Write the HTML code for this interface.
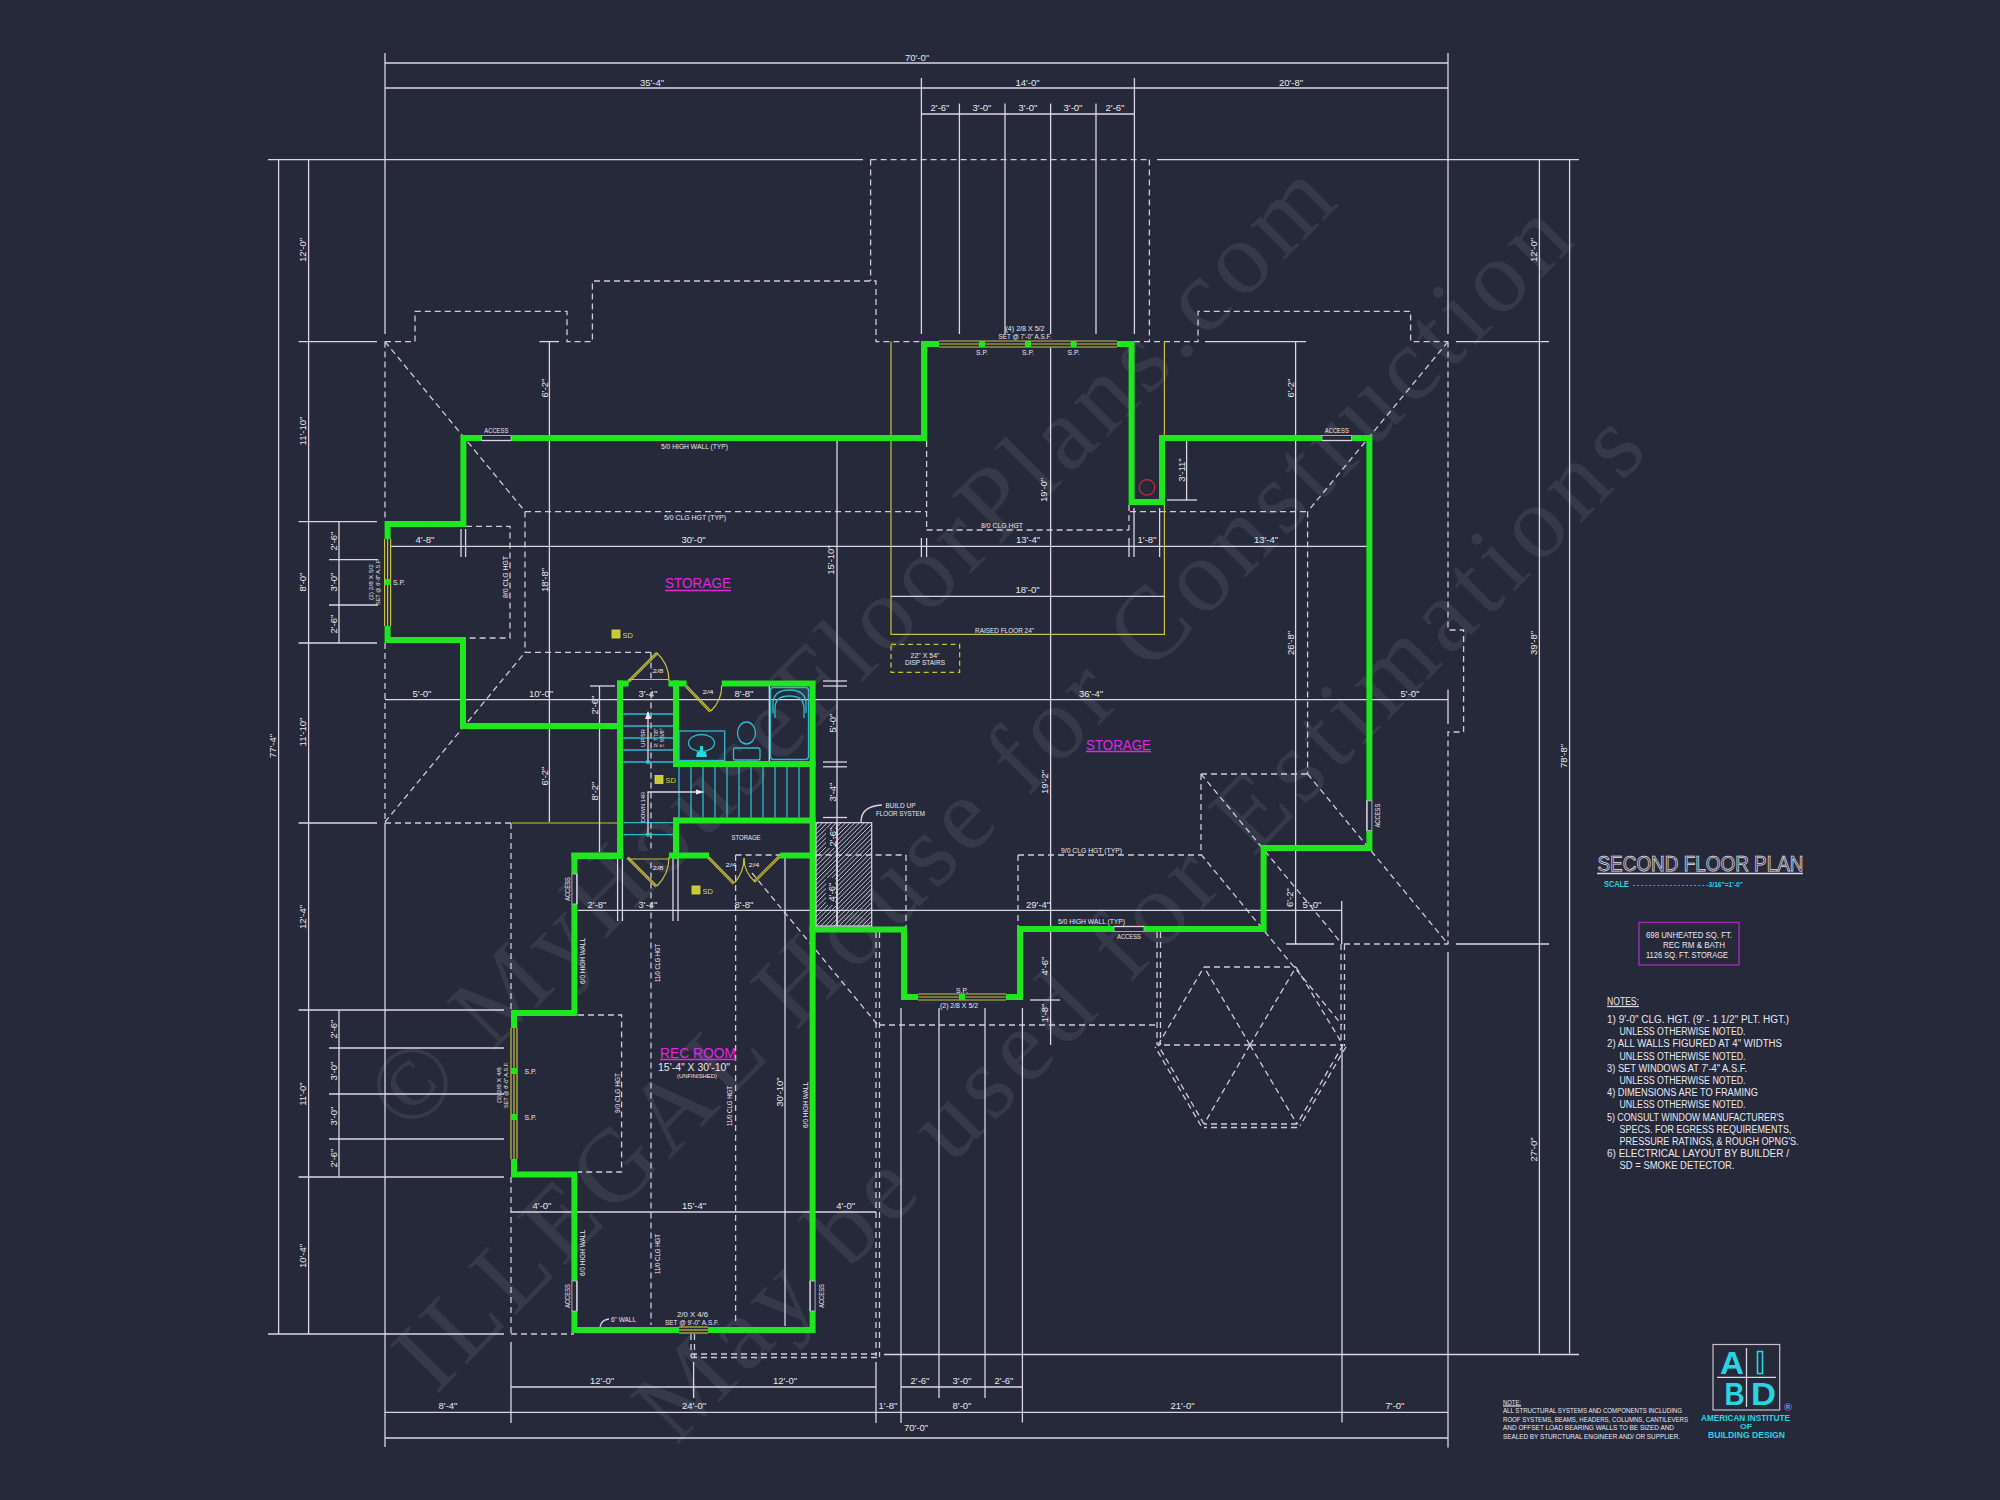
<!DOCTYPE html><html><head><meta charset="utf-8"><style>
html,body{margin:0;padding:0;background:#25293a;width:2000px;height:1500px;overflow:hidden}
svg{display:block}
.w{stroke:#dcd6e4;stroke-width:1.3;fill:none}
.d{stroke:#cfcbd8;stroke-width:1.3;fill:none;stroke-dasharray:6 4}
.g{stroke:#1fe61f;stroke-width:6;fill:none;stroke-linecap:square;stroke-linejoin:miter}
.gt{stroke:#1fe61f;stroke-width:6;fill:none;stroke-linecap:butt}
.y{stroke:#c8c23c;stroke-width:1.2;fill:none}
.yd{stroke:#c8c23c;stroke-width:1.3;fill:none;stroke-dasharray:5 3.5}
.c{stroke:#2ebccc;stroke-width:1.3;fill:none}
text{font-family:"Liberation Sans",sans-serif}
.t{fill:#ece8f0}
.m{fill:#e028e0}
.ct{fill:#2ad4e2}
.wm text{font-family:"Liberation Serif",serif;fill:#ffffff;fill-opacity:0.08}
</style></head><body>
<svg width="2000" height="1500" viewBox="0 0 2000 1500">
<rect width="2000" height="1500" fill="#25293a"/>
<g class="wm">
<text x="408.5" y="1135.8" font-size="104" letter-spacing="6.65" transform="rotate(-45 408.5 1135.8)">© MyHouseFloorPlans.com</text>
<text x="435.7" y="1395.7" font-size="104" letter-spacing="6.35" transform="rotate(-45.3 435.7 1395.7)">ILLEGAL House for Construction</text>
<text x="675.9" y="1446.5" font-size="104" letter-spacing="7.5" transform="rotate(-45.57 675.9 1446.5)">May be used for Estimations</text>
</g>
<line class="w" x1="385" y1="53" x2="385" y2="334"/>
<line class="w" x1="1448" y1="53" x2="1448" y2="334"/>
<line class="w" x1="385" y1="63" x2="1448" y2="63"/>
<text class="t" x="917" y="61.0" text-anchor="middle" font-size="9.5">70'-0"</text>
<line class="w" x1="385" y1="88" x2="1448" y2="88"/>
<text class="t" x="652" y="85.9" text-anchor="middle" font-size="9.5">35'-4"</text>
<text class="t" x="1027.6" y="85.9" text-anchor="middle" font-size="9.5">14'-0"</text>
<text class="t" x="1291" y="85.9" text-anchor="middle" font-size="9.5">20'-8"</text>
<line class="w" x1="921.4" y1="78" x2="921.4" y2="334"/>
<line class="w" x1="1134.4" y1="78" x2="1134.4" y2="334"/>
<line class="w" x1="921.4" y1="114" x2="1134.4" y2="114"/>
<line class="w" x1="959.4" y1="103.6" x2="959.4" y2="334"/>
<line class="w" x1="1005" y1="103.6" x2="1005" y2="334"/>
<line class="w" x1="1050.6" y1="103.6" x2="1050.6" y2="334"/>
<line class="w" x1="1096" y1="103.6" x2="1096" y2="334"/>
<text class="t" x="940" y="111.4" text-anchor="middle" font-size="9.5">2'-6"</text>
<text class="t" x="982" y="111.4" text-anchor="middle" font-size="9.5">3'-0"</text>
<text class="t" x="1028" y="111.4" text-anchor="middle" font-size="9.5">3'-0"</text>
<text class="t" x="1073" y="111.4" text-anchor="middle" font-size="9.5">3'-0"</text>
<text class="t" x="1115" y="111.4" text-anchor="middle" font-size="9.5">2'-6"</text>
<line class="w" x1="268" y1="159.6" x2="863" y2="159.6"/>
<line class="d" x1="870.6" y1="159.6" x2="1149.4" y2="159.6"/>
<line class="w" x1="1157" y1="159.6" x2="1579" y2="159.6"/>
<line class="w" x1="278.6" y1="159.6" x2="278.6" y2="1334"/>
<line class="w" x1="308.6" y1="159.6" x2="308.6" y2="1334"/>
<line class="w" x1="1539.4" y1="159.6" x2="1539.4" y2="1353.5"/>
<line class="w" x1="1569.6" y1="159.6" x2="1569.6" y2="1353.5"/>
<line class="w" x1="298.6" y1="341.6" x2="377" y2="341.6"/>
<line class="w" x1="298.6" y1="521.6" x2="377" y2="521.6"/>
<line class="w" x1="298.6" y1="643" x2="377" y2="643"/>
<line class="w" x1="298.6" y1="823" x2="377" y2="823"/>
<line class="w" x1="298.6" y1="1010" x2="504" y2="1010"/>
<line class="w" x1="298.6" y1="1177" x2="504" y2="1177"/>
<line class="w" x1="268" y1="1334" x2="504" y2="1334"/>
<line class="w" x1="339" y1="521.6" x2="339" y2="643"/>
<line class="w" x1="329" y1="559.6" x2="378" y2="559.6"/>
<line class="w" x1="329" y1="605" x2="378" y2="605"/>
<line class="w" x1="339" y1="1010" x2="339" y2="1177"/>
<line class="w" x1="329" y1="1048" x2="504" y2="1048"/>
<line class="w" x1="329" y1="1094" x2="504" y2="1094"/>
<line class="w" x1="329" y1="1139" x2="504" y2="1139"/>
<text class="t" x="302.5" y="250" text-anchor="middle" font-size="9.5" transform="rotate(-90 302.5 250)" dominant-baseline="central">12'-0"</text>
<text class="t" x="302.5" y="431" text-anchor="middle" font-size="9.5" transform="rotate(-90 302.5 431)" dominant-baseline="central">11'-10"</text>
<text class="t" x="302.5" y="582" text-anchor="middle" font-size="9.5" transform="rotate(-90 302.5 582)" dominant-baseline="central">8'-0"</text>
<text class="t" x="302.5" y="732" text-anchor="middle" font-size="9.5" transform="rotate(-90 302.5 732)" dominant-baseline="central">11'-10"</text>
<text class="t" x="302.5" y="917" text-anchor="middle" font-size="9.5" transform="rotate(-90 302.5 917)" dominant-baseline="central">12'-4"</text>
<text class="t" x="302.5" y="1094" text-anchor="middle" font-size="9.5" transform="rotate(-90 302.5 1094)" dominant-baseline="central">11'-0"</text>
<text class="t" x="302.5" y="1256" text-anchor="middle" font-size="9.5" transform="rotate(-90 302.5 1256)" dominant-baseline="central">10'-4"</text>
<text class="t" x="272" y="746" text-anchor="middle" font-size="9.5" transform="rotate(-90 272 746)" dominant-baseline="central">77'-4"</text>
<text class="t" x="333.5" y="541" text-anchor="middle" font-size="9.5" transform="rotate(-90 333.5 541)" dominant-baseline="central">2'-6"</text>
<text class="t" x="333.5" y="582" text-anchor="middle" font-size="9.5" transform="rotate(-90 333.5 582)" dominant-baseline="central">3'-0"</text>
<text class="t" x="333.5" y="624" text-anchor="middle" font-size="9.5" transform="rotate(-90 333.5 624)" dominant-baseline="central">2'-6"</text>
<text class="t" x="333.5" y="1029" text-anchor="middle" font-size="9.5" transform="rotate(-90 333.5 1029)" dominant-baseline="central">2'-6"</text>
<text class="t" x="333.5" y="1071" text-anchor="middle" font-size="9.5" transform="rotate(-90 333.5 1071)" dominant-baseline="central">3'-0"</text>
<text class="t" x="333.5" y="1116" text-anchor="middle" font-size="9.5" transform="rotate(-90 333.5 1116)" dominant-baseline="central">3'-0"</text>
<text class="t" x="333.5" y="1158" text-anchor="middle" font-size="9.5" transform="rotate(-90 333.5 1158)" dominant-baseline="central">2'-6"</text>
<text class="t" x="1533" y="250" text-anchor="middle" font-size="9.5" transform="rotate(-90 1533 250)" dominant-baseline="central">12'-0"</text>
<text class="t" x="1533" y="643" text-anchor="middle" font-size="9.5" transform="rotate(-90 1533 643)" dominant-baseline="central">39'-8"</text>
<text class="t" x="1533" y="1149.5" text-anchor="middle" font-size="9.5" transform="rotate(-90 1533 1149.5)" dominant-baseline="central">27'-0"</text>
<text class="t" x="1563" y="756" text-anchor="middle" font-size="9.5" transform="rotate(-90 1563 756)" dominant-baseline="central">78'-8"</text>
<line class="w" x1="1456" y1="341.6" x2="1549" y2="341.6"/>
<line class="w" x1="1456" y1="944" x2="1549" y2="944"/>
<line class="w" x1="884" y1="1354.5" x2="1579" y2="1354.5"/>
<polyline class="d" points="385,341.6 415,341.6 415,311.4 567,311.4 567,341.6 592.4,341.6 592.4,281 876,281 876,341.6 921,341.6"/>
<line class="d" x1="870.6" y1="159.6" x2="870.6" y2="281"/>
<line class="d" x1="1149.4" y1="159.6" x2="1149.4" y2="341.6"/>
<polyline class="d" points="1134,341.6 1198,341.6 1198,311.4 1410.6,311.4 1410.6,341.6 1448,341.6"/>
<line class="w" x1="539.4" y1="341.6" x2="559" y2="341.6"/>
<line class="w" x1="549.4" y1="341.6" x2="549.4" y2="822"/>
<text class="t" x="544.5" y="388" text-anchor="middle" font-size="9.5" transform="rotate(-90 544.5 388)" dominant-baseline="central">6'-2"</text>
<text class="t" x="544" y="580" text-anchor="middle" font-size="9.5" transform="rotate(-90 544 580)" dominant-baseline="central">18'-8"</text>
<text class="t" x="544" y="776" text-anchor="middle" font-size="9.5" transform="rotate(-90 544 776)" dominant-baseline="central">6'-2"</text>
<line class="w" x1="1205" y1="341.6" x2="1306" y2="341.6"/>
<line class="w" x1="1295.6" y1="341.6" x2="1295.6" y2="944"/>
<text class="t" x="1290.5" y="388" text-anchor="middle" font-size="9.5" transform="rotate(-90 1290.5 388)" dominant-baseline="central">6'-2"</text>
<text class="t" x="1290" y="643" text-anchor="middle" font-size="9.5" transform="rotate(-90 1290 643)" dominant-baseline="central">26'-8"</text>
<text class="t" x="1289.5" y="897.6" text-anchor="middle" font-size="9.5" transform="rotate(-90 1289.5 897.6)" dominant-baseline="central">6'-2"</text>
<line class="w" x1="1286" y1="944" x2="1334" y2="944"/>
<line class="d" x1="385" y1="341.6" x2="525" y2="511.4"/>
<line class="d" x1="1448" y1="341.6" x2="1307.6" y2="511.6"/>
<line class="d" x1="385" y1="341.6" x2="385" y2="521"/>
<line class="d" x1="385" y1="643" x2="385" y2="823"/>
<line class="w" x1="385" y1="823" x2="385" y2="1447"/>
<polyline class="d" points="1448,341.6 1448,630 1463.6,630 1463.6,732 1448,732 1448,944"/>
<line class="w" x1="1448" y1="952" x2="1448" y2="1447.5"/>
<line class="d" x1="525" y1="511.6" x2="926.6" y2="511.6"/>
<line class="d" x1="1130" y1="511.6" x2="1307.6" y2="511.6"/>
<line class="d" x1="525" y1="511.6" x2="525" y2="652.4"/>
<line class="d" x1="1307.6" y1="511.6" x2="1307.6" y2="774"/>
<line class="d" x1="926.6" y1="441" x2="926.6" y2="530"/>
<line class="d" x1="926.6" y1="530" x2="1129" y2="530"/>
<line class="d" x1="1129" y1="505" x2="1129" y2="530"/>
<line class="d" x1="385" y1="822" x2="525" y2="652.4"/>
<line class="d" x1="525" y1="652.4" x2="651" y2="652.4"/>
<line class="d" x1="651" y1="652.4" x2="651" y2="1325"/>
<line class="d" x1="385" y1="823" x2="511" y2="823"/>
<line class="y" x1="512" y1="823" x2="618" y2="823"/>
<line class="d" x1="511" y1="823" x2="511" y2="1010"/>
<line class="d" x1="511" y1="1177" x2="511" y2="1334"/>
<line class="d" x1="511" y1="1334" x2="574" y2="1334"/>
<polyline class="d" points="466,526.4 510,526.4 510,638 466,638"/>
<line class="d" x1="876" y1="932" x2="876" y2="1356"/>
<line class="d" x1="879.5" y1="932" x2="879.5" y2="1357"/>
<line class="d" x1="691" y1="1354" x2="879" y2="1354"/>
<line class="d" x1="691" y1="1357.5" x2="879.5" y2="1357.5"/>
<line class="d" x1="691" y1="1334" x2="691" y2="1357"/>
<line class="d" x1="694.5" y1="1334" x2="694.5" y2="1357"/>
<line class="d" x1="879" y1="1025" x2="1157" y2="1025"/>
<line class="d" x1="752" y1="873" x2="877" y2="1024"/>
<line class="d" x1="735.6" y1="855" x2="906" y2="855"/>
<line class="d" x1="906" y1="855" x2="906" y2="929"/>
<line class="d" x1="735.6" y1="855" x2="735.6" y2="1325"/>
<polyline class="d" points="578,1015 621.6,1015 621.6,1172 578,1172"/>
<line class="d" x1="1157" y1="932" x2="1157" y2="1045"/>
<line class="d" x1="1160.5" y1="932" x2="1160.5" y2="1045"/>
<line class="d" x1="1018" y1="855" x2="1201" y2="855"/>
<line class="d" x1="1018" y1="855" x2="1018" y2="929"/>
<line class="d" x1="1201" y1="774" x2="1201" y2="854.4"/>
<line class="d" x1="1201" y1="774" x2="1307.6" y2="774"/>
<line class="d" x1="1201" y1="774" x2="1342" y2="944"/>
<line class="d" x1="1307.6" y1="774" x2="1448" y2="944"/>
<line class="d" x1="1201" y1="854.4" x2="1342" y2="1025"/>
<line class="d" x1="1344" y1="944" x2="1448.4" y2="944"/>
<line class="d" x1="1341" y1="944" x2="1341" y2="1046"/>
<line class="d" x1="1344.5" y1="944" x2="1344.5" y2="1046"/>
<line class="w" x1="1342" y1="1046" x2="1342" y2="1422.5"/>
<line class="d" x1="1158" y1="1045" x2="1204" y2="967"/>
<line class="d" x1="1250" y1="1045" x2="1158" y2="1045"/>
<line class="d" x1="1204" y1="967" x2="1296" y2="967"/>
<line class="d" x1="1250" y1="1045" x2="1204" y2="967"/>
<line class="d" x1="1296" y1="967" x2="1343" y2="1045"/>
<line class="d" x1="1250" y1="1045" x2="1296" y2="967"/>
<line class="d" x1="1343" y1="1045" x2="1297" y2="1124"/>
<line class="d" x1="1250" y1="1045" x2="1343" y2="1045"/>
<line class="d" x1="1297" y1="1124" x2="1204" y2="1124"/>
<line class="d" x1="1250" y1="1045" x2="1297" y2="1124"/>
<line class="d" x1="1204" y1="1124" x2="1158" y2="1045"/>
<line class="d" x1="1250" y1="1045" x2="1204" y2="1124"/>
<line class="d" x1="1346.024613836449" y1="1046.7611675503374" x2="1300.024613836449" y2="1125.7611675503374"/>
<line class="d" x1="1297.0" y1="1127.5" x2="1204.0" y2="1127.5"/>
<line class="d" x1="1200.975386163551" y1="1125.7611675503374" x2="1154.975386163551" y2="1046.7611675503374"/>
<line class="w" x1="390" y1="546.4" x2="1367" y2="546.4"/>
<line class="w" x1="461" y1="529" x2="461" y2="557"/>
<line class="w" x1="465.6" y1="529" x2="465.6" y2="557"/>
<line class="w" x1="921.4" y1="538" x2="921.4" y2="557"/>
<line class="w" x1="926.6" y1="538" x2="926.6" y2="557"/>
<line class="w" x1="1129" y1="538" x2="1129" y2="557"/>
<line class="w" x1="1134" y1="508" x2="1134" y2="557"/>
<line class="w" x1="1159.6" y1="508" x2="1159.6" y2="557"/>
<text class="t" x="425" y="543.4" text-anchor="middle" font-size="9.5">4'-8"</text>
<text class="t" x="693.6" y="543.4" text-anchor="middle" font-size="9.5">30'-0"</text>
<text class="t" x="1028" y="543.4" text-anchor="middle" font-size="9.5">13'-4"</text>
<text class="t" x="1147" y="543.4" text-anchor="middle" font-size="9.5">1'-8"</text>
<text class="t" x="1266" y="543.4" text-anchor="middle" font-size="9.5">13'-4"</text>
<line class="w" x1="385" y1="699.6" x2="1448" y2="699.6"/>
<line class="w" x1="1448" y1="689.6" x2="1448" y2="724"/>
<text class="t" x="422" y="697.0" text-anchor="middle" font-size="9.5">5'-0"</text>
<text class="t" x="541" y="697.0" text-anchor="middle" font-size="9.5">10'-0"</text>
<text class="t" x="648" y="697.0" text-anchor="middle" font-size="9.5">3'-4"</text>
<text class="t" x="744" y="697.0" text-anchor="middle" font-size="9.5">8'-8"</text>
<text class="t" x="1091" y="697.0" text-anchor="middle" font-size="9.5">36'-4"</text>
<text class="t" x="1410" y="697.0" text-anchor="middle" font-size="9.5">5'-0"</text>
<line class="w" x1="578" y1="910.4" x2="1341" y2="910.4"/>
<line class="w" x1="617.6" y1="856" x2="617.6" y2="921"/>
<line class="w" x1="622.4" y1="856" x2="622.4" y2="921"/>
<line class="w" x1="673" y1="856" x2="673" y2="921"/>
<line class="w" x1="678" y1="856" x2="678" y2="921"/>
<line class="w" x1="1341.7" y1="901" x2="1341.7" y2="944"/>
<text class="t" x="597" y="907.8" text-anchor="middle" font-size="9.5">2'-8"</text>
<text class="t" x="648" y="907.8" text-anchor="middle" font-size="9.5">3'-4"</text>
<text class="t" x="744" y="907.8" text-anchor="middle" font-size="9.5">8'-8"</text>
<text class="t" x="1038" y="907.8" text-anchor="middle" font-size="9.5">29'-4"</text>
<text class="t" x="1312" y="907.8" text-anchor="middle" font-size="9.5">5'-0"</text>
<line class="w" x1="511" y1="1212" x2="876" y2="1212"/>
<text class="t" x="542" y="1209.4" text-anchor="middle" font-size="9.5">4'-0"</text>
<text class="t" x="694" y="1209.4" text-anchor="middle" font-size="9.5">15'-4"</text>
<text class="t" x="845.6" y="1209.4" text-anchor="middle" font-size="9.5">4'-0"</text>
<line class="w" x1="511" y1="1387" x2="876" y2="1387"/>
<line class="w" x1="511" y1="1342" x2="511" y2="1423"/>
<line class="w" x1="693.6" y1="1362" x2="693.6" y2="1398"/>
<line class="w" x1="876" y1="1362" x2="876" y2="1423"/>
<text class="t" x="602" y="1384.4" text-anchor="middle" font-size="9.5">12'-0"</text>
<text class="t" x="785" y="1384.4" text-anchor="middle" font-size="9.5">12'-0"</text>
<line class="w" x1="901" y1="1387" x2="1022.5" y2="1387"/>
<line class="w" x1="901" y1="1008" x2="901" y2="1423"/>
<line class="w" x1="939" y1="1008" x2="939" y2="1398"/>
<line class="w" x1="985" y1="1008" x2="985" y2="1398"/>
<line class="w" x1="1022.4" y1="1008" x2="1022.4" y2="1422.5"/>
<text class="t" x="920" y="1384.4" text-anchor="middle" font-size="9.5">2'-6"</text>
<text class="t" x="962" y="1384.4" text-anchor="middle" font-size="9.5">3'-0"</text>
<text class="t" x="1004" y="1384.4" text-anchor="middle" font-size="9.5">2'-6"</text>
<line class="w" x1="385" y1="1412.4" x2="1448" y2="1412.4"/>
<text class="t" x="448" y="1409.4" text-anchor="middle" font-size="9.5">8'-4"</text>
<text class="t" x="694" y="1409.4" text-anchor="middle" font-size="9.5">24'-0"</text>
<text class="t" x="888" y="1409.4" text-anchor="middle" font-size="9.5">1'-8"</text>
<text class="t" x="962" y="1409.4" text-anchor="middle" font-size="9.5">8'-0"</text>
<text class="t" x="1182.5" y="1409.4" text-anchor="middle" font-size="9.5">21'-0"</text>
<text class="t" x="1395" y="1409.4" text-anchor="middle" font-size="9.5">7'-0"</text>
<line class="w" x1="385" y1="1438" x2="1448" y2="1438"/>
<text class="t" x="916" y="1431.4" text-anchor="middle" font-size="9.5">70'-0"</text>
<line class="w" x1="837" y1="441" x2="837" y2="926"/>
<line class="w" x1="823" y1="681" x2="847" y2="681"/>
<line class="w" x1="823" y1="686" x2="847" y2="686"/>
<line class="w" x1="823" y1="762" x2="847" y2="762"/>
<line class="w" x1="823" y1="766.8" x2="847" y2="766.8"/>
<line class="w" x1="823" y1="817.5" x2="847" y2="817.5"/>
<text class="t" x="830" y="560" text-anchor="middle" font-size="9.5" transform="rotate(-90 830 560)" dominant-baseline="central">15'-10"</text>
<text class="t" x="832" y="723" text-anchor="middle" font-size="9.5" transform="rotate(-90 832 723)" dominant-baseline="central">5'-0"</text>
<text class="t" x="832" y="792" text-anchor="middle" font-size="9.5" transform="rotate(-90 832 792)" dominant-baseline="central">3'-4"</text>
<line class="w" x1="1050.6" y1="347" x2="1050.6" y2="1045"/>
<line class="w" x1="1030" y1="1000" x2="1060" y2="1000"/>
<text class="t" x="1043.5" y="490" text-anchor="middle" font-size="9.5" transform="rotate(-90 1043.5 490)" dominant-baseline="central">19'-0"</text>
<text class="t" x="1044" y="782" text-anchor="middle" font-size="9.5" transform="rotate(-90 1044 782)" dominant-baseline="central">19'-2"</text>
<text class="t" x="1044.4" y="966" text-anchor="middle" font-size="9.5" transform="rotate(-90 1044.4 966)" dominant-baseline="central">4'-6"</text>
<text class="t" x="1044" y="1013" text-anchor="middle" font-size="9.5" transform="rotate(-90 1044 1013)" dominant-baseline="central">1'-8"</text>
<line class="w" x1="599.5" y1="686" x2="599.5" y2="852"/>
<line class="w" x1="590" y1="686" x2="615" y2="686"/>
<text class="t" x="594.5" y="705" text-anchor="middle" font-size="9.5" transform="rotate(-90 594.5 705)" dominant-baseline="central">2'-6"</text>
<text class="t" x="594.5" y="791" text-anchor="middle" font-size="9.5" transform="rotate(-90 594.5 791)" dominant-baseline="central">8'-2"</text>
<line class="w" x1="785" y1="858" x2="785" y2="1326"/>
<text class="t" x="779" y="1092" text-anchor="middle" font-size="9.5" transform="rotate(-90 779 1092)" dominant-baseline="central">30'-10"</text>
<line class="w" x1="1186.6" y1="441" x2="1186.6" y2="500"/>
<line class="w" x1="1167" y1="500" x2="1197" y2="500"/>
<text class="t" x="1181" y="470" text-anchor="middle" font-size="9.5" transform="rotate(-90 1181 470)" dominant-baseline="central">3'-11"</text>
<polyline class="y" points="891,341.6 891,634.4 1164.4,634.4 1164.4,341.6"/>
<line class="w" x1="891" y1="596.4" x2="1164.4" y2="596.4"/>
<text class="t" x="1027.6" y="593.4" text-anchor="middle" font-size="9.5">18'-0"</text>
<text class="t" x="1004.5" y="632.5" text-anchor="middle" font-size="7" textLength="59" lengthAdjust="spacingAndGlyphs">RAISED FLOOR 24"</text>
<rect class="yd" x="891" y="644.4" width="68.6" height="28"/>
<text class="t" x="925" y="657.5" text-anchor="middle" font-size="6.5" textLength="29" lengthAdjust="spacingAndGlyphs">22" X 54"</text>
<text class="t" x="925" y="665" text-anchor="middle" font-size="6.5" textLength="40" lengthAdjust="spacingAndGlyphs">DISP STAIRS</text>
<polygon class="g" points="463.4,438 924,438 924,344 1131.6,344 1131.6,502 1162,502 1162,438 1369.4,438 1369.4,848 1263.6,848 1263.6,929 1020,929 1020,997 904,997 904,929.4 812.6,929.4 812.6,1330 574.4,1330 574.4,1174.4 514,1174.4 514,1013 574.4,1013 574.4,856 620,856 620,726 463,726 463,640 387.6,640 387.6,524 463.4,524 463.4,438"/>
<polyline class="g" points="620,683.5 812.6,683.5 812.6,929.4"/>
<line class="g" x1="620" y1="683.5" x2="620" y2="726"/>
<line class="g" x1="676" y1="683.5" x2="676" y2="764"/>
<line class="g" x1="676" y1="764" x2="812.6" y2="764"/>
<line class="g" x1="676" y1="820.5" x2="812.6" y2="820.5"/>
<line class="g" x1="676" y1="820.5" x2="676" y2="856"/>
<line class="g" x1="574.4" y1="855.6" x2="812.6" y2="855.6"/>
<rect x="628.7" y="679" width="39.8" height="9" fill="#25293a"/>
<rect x="686.5" y="679" width="35.2" height="9" fill="#25293a"/>
<rect x="623.5" y="851" width="45.5" height="9" fill="#25293a"/>
<rect x="709" y="851" width="71" height="9" fill="#25293a"/>
<line class="d" x1="735.6" y1="855" x2="780" y2="855"/>
<line class="d" x1="735.6" y1="855" x2="735.6" y2="860"/>
<rect x="939" y="340.5" width="178" height="7" fill="#25293a"/>
<line class="y" x1="939" y1="341" x2="1117" y2="341"/>
<line class="y" x1="939" y1="344" x2="1117" y2="344"/>
<line class="y" x1="939" y1="347" x2="1117" y2="347"/>
<rect x="979" y="341" width="6" height="6" fill="#1fe61f"/>
<rect x="1025" y="341" width="6" height="6" fill="#1fe61f"/>
<rect x="1070.6" y="341" width="6" height="6" fill="#1fe61f"/>
<rect x="384.1" y="539" width="7" height="87" fill="#25293a"/>
<line class="y" x1="384.6" y1="539" x2="384.6" y2="626"/>
<line class="y" x1="387.6" y1="539" x2="387.6" y2="626"/>
<line class="y" x1="390.6" y1="539" x2="390.6" y2="626"/>
<rect x="384.6" y="579" width="6" height="6" fill="#1fe61f"/>
<rect x="510.5" y="1028" width="7" height="131" fill="#25293a"/>
<line class="y" x1="511" y1="1028" x2="511" y2="1159"/>
<line class="y" x1="514" y1="1028" x2="514" y2="1159"/>
<line class="y" x1="517" y1="1028" x2="517" y2="1159"/>
<rect x="511" y="1068" width="6" height="6" fill="#1fe61f"/>
<rect x="511" y="1114" width="6" height="6" fill="#1fe61f"/>
<rect x="918" y="993.5" width="88" height="7" fill="#25293a"/>
<line class="y" x1="918" y1="994" x2="1006" y2="994"/>
<line class="y" x1="918" y1="997" x2="1006" y2="997"/>
<line class="y" x1="918" y1="1000" x2="1006" y2="1000"/>
<rect x="959" y="994" width="6" height="6" fill="#1fe61f"/>
<rect x="679" y="1326.5" width="29" height="7" fill="#25293a"/>
<line class="y" x1="679" y1="1327" x2="708" y2="1327"/>
<line class="y" x1="679" y1="1330" x2="708" y2="1330"/>
<line class="y" x1="679" y1="1333" x2="708" y2="1333"/>
<rect x="481.6" y="434.5" width="29.399999999999977" height="7" fill="#25293a"/>
<rect x="481.6" y="435.5" width="29.399999999999977" height="5" fill="none" stroke="#b8b4c4" stroke-width="0.9"/>
<line class="w" x1="481.6" y1="440.5" x2="511" y2="440.5"/>
<text class="t" x="496.3" y="433" text-anchor="middle" font-size="6.5" textLength="24" lengthAdjust="spacingAndGlyphs">ACCESS</text>
<rect x="1322" y="434.5" width="29.59999999999991" height="7" fill="#25293a"/>
<rect x="1322" y="435.5" width="29.59999999999991" height="5" fill="none" stroke="#b8b4c4" stroke-width="0.9"/>
<line class="w" x1="1322" y1="440.5" x2="1351.6" y2="440.5"/>
<text class="t" x="1336.8" y="433" text-anchor="middle" font-size="6.5" textLength="24" lengthAdjust="spacingAndGlyphs">ACCESS</text>
<rect x="1114" y="925.5" width="30" height="7" fill="#25293a"/>
<rect x="1114" y="926.5" width="30" height="5" fill="none" stroke="#b8b4c4" stroke-width="0.9"/>
<line class="w" x1="1114" y1="926.5" x2="1144" y2="926.5"/>
<text class="t" x="1129.0" y="939" text-anchor="middle" font-size="6.5" textLength="24" lengthAdjust="spacingAndGlyphs">ACCESS</text>
<rect x="1365.9" y="800.8" width="7" height="29.600000000000023" fill="#25293a"/>
<rect x="1366.9" y="800.8" width="5" height="29.600000000000023" fill="none" stroke="#b8b4c4" stroke-width="0.9"/>
<line class="w" x1="1366.9" y1="800.8" x2="1366.9" y2="830.4"/>
<text class="t" x="1378" y="815.5999999999999" text-anchor="middle" font-size="6.5" transform="rotate(-90 1378 815.5999999999999)" textLength="24" lengthAdjust="spacingAndGlyphs" dominant-baseline="central">ACCESS</text>
<rect x="570.9" y="874" width="7" height="30" fill="#25293a"/>
<rect x="571.9" y="874" width="5" height="30" fill="none" stroke="#b8b4c4" stroke-width="0.9"/>
<line class="w" x1="576.9" y1="874" x2="576.9" y2="904"/>
<text class="t" x="567" y="889.0" text-anchor="middle" font-size="6.5" transform="rotate(-90 567 889.0)" textLength="24" lengthAdjust="spacingAndGlyphs" dominant-baseline="central">ACCESS</text>
<rect x="570.9" y="1281" width="7" height="30" fill="#25293a"/>
<rect x="571.9" y="1281" width="5" height="30" fill="none" stroke="#b8b4c4" stroke-width="0.9"/>
<line class="w" x1="576.9" y1="1281" x2="576.9" y2="1311"/>
<text class="t" x="567" y="1296.0" text-anchor="middle" font-size="6.5" transform="rotate(-90 567 1296.0)" textLength="24" lengthAdjust="spacingAndGlyphs" dominant-baseline="central">ACCESS</text>
<rect x="809.1" y="1281" width="7" height="30" fill="#25293a"/>
<rect x="810.1" y="1281" width="5" height="30" fill="none" stroke="#b8b4c4" stroke-width="0.9"/>
<line class="w" x1="810.1" y1="1281" x2="810.1" y2="1311"/>
<text class="t" x="821" y="1296.0" text-anchor="middle" font-size="6.5" transform="rotate(-90 821 1296.0)" textLength="24" lengthAdjust="spacingAndGlyphs" dominant-baseline="central">ACCESS</text>
<line class="c" x1="623.5" y1="714" x2="673" y2="714"/>
<line class="c" x1="623.5" y1="726" x2="673" y2="726"/>
<line class="c" x1="623.5" y1="738" x2="673" y2="738"/>
<line class="c" x1="623.5" y1="750" x2="673" y2="750"/>
<line class="c" x1="623.5" y1="762" x2="673" y2="762"/>
<line class="c" x1="623.5" y1="822.7" x2="673" y2="822.7"/>
<line class="c" x1="623.5" y1="834.7" x2="673" y2="834.7"/>
<line class="c" x1="679" y1="767" x2="679" y2="817.5"/>
<line class="c" x1="691" y1="767" x2="691" y2="817.5"/>
<line class="c" x1="703" y1="767" x2="703" y2="817.5"/>
<line class="c" x1="715" y1="767" x2="715" y2="817.5"/>
<line class="c" x1="727" y1="767" x2="727" y2="817.5"/>
<line class="c" x1="739" y1="767" x2="739" y2="817.5"/>
<line class="c" x1="751" y1="767" x2="751" y2="817.5"/>
<line class="c" x1="763" y1="767" x2="763" y2="817.5"/>
<line class="c" x1="775" y1="767" x2="775" y2="817.5"/>
<line class="c" x1="787" y1="767" x2="787" y2="817.5"/>
<line class="c" x1="799" y1="767" x2="799" y2="817.5"/>
<line class="w" x1="648" y1="762" x2="648" y2="712"/>
<path d="M645,719 L648,711 L651,719 Z" fill="#ece8f0"/>
<circle cx="648" cy="762" r="1.8" fill="none" stroke="#2ad4e2" stroke-width="1"/>
<polyline class="w" points="648,834.7 648,792 702,792"/>
<path d="M696,789.5 L704.5,792 L696,794.5 Z" fill="#ece8f0"/>
<circle cx="648" cy="834.7" r="1.8" fill="none" stroke="#2ad4e2" stroke-width="1"/>
<text class="t" x="643" y="738" text-anchor="middle" font-size="6" transform="rotate(-90 643 738)" textLength="18" lengthAdjust="spacingAndGlyphs" dominant-baseline="central">UP 5R</text>
<text class="t" x="656" y="738" text-anchor="middle" font-size="5" transform="rotate(-90 656 738)" textLength="19" lengthAdjust="spacingAndGlyphs" dominant-baseline="central">R: 7 7/8"</text>
<text class="t" x="661.5" y="738" text-anchor="middle" font-size="5" transform="rotate(-90 661.5 738)" textLength="19" lengthAdjust="spacingAndGlyphs" dominant-baseline="central">T: 9 5/8"</text>
<text class="t" x="643" y="807" text-anchor="middle" font-size="6" transform="rotate(-90 643 807)" textLength="30" lengthAdjust="spacingAndGlyphs" dominant-baseline="central">DOWN 14R</text>
<line class="w" x1="769.3" y1="686" x2="769.3" y2="761"/>
<rect class="c" x="679" y="731" width="45.7" height="29.5"/>
<ellipse class="c" cx="701.5" cy="743" rx="13" ry="8.5"/>
<path d="M696,757 L697,752 L700,752 L700,746 L703,746 L703,752 L706,752 L707,757 Z" fill="#2ad4e2"/>
<ellipse class="c" cx="746.5" cy="733" rx="9" ry="11"/>
<rect class="c" x="733.5" y="748" width="26.5" height="12" rx="2"/>
<rect class="c" x="770.5" y="687.5" width="38" height="72" rx="3"/>
<path class="c" d="M773,713 L773,704 Q773,690 789.5,690 Q806,690 806,704 L806,713"/>
<path class="c" d="M775,718 L775,708 Q775,696 789.5,696 Q804,696 804,708 L804,718"/>
<line class="y" x1="628" y1="681" x2="656.5" y2="652.5"/>
<line class="y" x1="629.1313708498985" y1="682.1313708498985" x2="657.6313708498985" y2="653.6313708498985"/>
<path class="y" d="M656.5,652.5 Q669,664 669,681"/>
<line class="y" x1="628" y1="679.5" x2="669" y2="679.5"/>
<text class="t" x="658" y="672.5" text-anchor="middle" font-size="6" textLength="11" lengthAdjust="spacingAndGlyphs">2/8</text>
<line class="y" x1="686.5" y1="685.5" x2="711" y2="711"/>
<line class="y" x1="685.3462324635401" y1="686.6085217507164" x2="709.8462324635401" y2="712.1085217507164"/>
<path class="y" d="M711,711 Q722,700 721.7,685.5"/>
<text class="t" x="708" y="694" text-anchor="middle" font-size="6" textLength="11" lengthAdjust="spacingAndGlyphs">2/4</text>
<line class="y" x1="628" y1="857" x2="657" y2="886"/>
<line class="y" x1="626.8686291501015" y1="858.1313708498985" x2="655.8686291501015" y2="887.1313708498985"/>
<path class="y" d="M657,886 Q669,874 669,857"/>
<line class="y" x1="628" y1="859" x2="669" y2="859"/>
<text class="t" x="658" y="870" text-anchor="middle" font-size="6" textLength="11" lengthAdjust="spacingAndGlyphs">2/8</text>
<line class="y" x1="709" y1="857" x2="734.4" y2="883"/>
<line class="y" x1="707.855500459996" y1="858.1180880121577" x2="733.255500459996" y2="884.1180880121577"/>
<path class="y" d="M734.4,883 Q744,872 744,858"/>
<line class="y" x1="780" y1="857" x2="755" y2="882"/>
<line class="y" x1="778.8686291501015" y1="855.8686291501015" x2="753.8686291501015" y2="880.8686291501015"/>
<path class="y" d="M755,882 Q744,872 744,858"/>
<text class="t" x="731" y="867" text-anchor="middle" font-size="6" textLength="11" lengthAdjust="spacingAndGlyphs">2/4</text>
<text class="t" x="754" y="867" text-anchor="middle" font-size="6" textLength="11" lengthAdjust="spacingAndGlyphs">2/4</text>
<rect x="612" y="630" width="8" height="8" fill="#c8c83a" stroke="#e0e040" stroke-width="0.8"/>
<text x="622.5" y="637.5" font-size="7.5" fill="#d8d840">SD</text>
<rect x="655" y="775.5" width="8" height="8" fill="#c8c83a" stroke="#e0e040" stroke-width="0.8"/>
<text x="665.5" y="783.0" font-size="7.5" fill="#d8d840">SD</text>
<rect x="692" y="886" width="8" height="8" fill="#c8c83a" stroke="#e0e040" stroke-width="0.8"/>
<text x="702.5" y="893.5" font-size="7.5" fill="#d8d840">SD</text>
<clipPath id="hc"><rect x="816" y="822.7" width="55.7" height="103.3"/></clipPath>
<g clip-path="url(#hc)">
<line x1="705.6" y1="926" x2="809.6" y2="822" stroke="#dcd6e4" stroke-width="0.9"/>
<line x1="710.2" y1="926" x2="814.2" y2="822" stroke="#dcd6e4" stroke-width="0.9"/>
<line x1="714.8" y1="926" x2="818.8" y2="822" stroke="#dcd6e4" stroke-width="0.9"/>
<line x1="719.4" y1="926" x2="823.4" y2="822" stroke="#dcd6e4" stroke-width="0.9"/>
<line x1="724.0" y1="926" x2="828.0" y2="822" stroke="#dcd6e4" stroke-width="0.9"/>
<line x1="728.6" y1="926" x2="832.6" y2="822" stroke="#dcd6e4" stroke-width="0.9"/>
<line x1="733.2" y1="926" x2="837.2" y2="822" stroke="#dcd6e4" stroke-width="0.9"/>
<line x1="737.8" y1="926" x2="841.8" y2="822" stroke="#dcd6e4" stroke-width="0.9"/>
<line x1="742.4" y1="926" x2="846.4" y2="822" stroke="#dcd6e4" stroke-width="0.9"/>
<line x1="747.0" y1="926" x2="851.0" y2="822" stroke="#dcd6e4" stroke-width="0.9"/>
<line x1="751.6" y1="926" x2="855.6" y2="822" stroke="#dcd6e4" stroke-width="0.9"/>
<line x1="756.2" y1="926" x2="860.2" y2="822" stroke="#dcd6e4" stroke-width="0.9"/>
<line x1="760.8" y1="926" x2="864.8" y2="822" stroke="#dcd6e4" stroke-width="0.9"/>
<line x1="765.4" y1="926" x2="869.4" y2="822" stroke="#dcd6e4" stroke-width="0.9"/>
<line x1="770.0" y1="926" x2="874.0" y2="822" stroke="#dcd6e4" stroke-width="0.9"/>
<line x1="774.6" y1="926" x2="878.6" y2="822" stroke="#dcd6e4" stroke-width="0.9"/>
<line x1="779.2" y1="926" x2="883.2" y2="822" stroke="#dcd6e4" stroke-width="0.9"/>
<line x1="783.8" y1="926" x2="887.8" y2="822" stroke="#dcd6e4" stroke-width="0.9"/>
<line x1="788.4" y1="926" x2="892.4" y2="822" stroke="#dcd6e4" stroke-width="0.9"/>
<line x1="793.0" y1="926" x2="897.0" y2="822" stroke="#dcd6e4" stroke-width="0.9"/>
<line x1="797.6" y1="926" x2="901.6" y2="822" stroke="#dcd6e4" stroke-width="0.9"/>
<line x1="802.2" y1="926" x2="906.2" y2="822" stroke="#dcd6e4" stroke-width="0.9"/>
<line x1="806.8" y1="926" x2="910.8" y2="822" stroke="#dcd6e4" stroke-width="0.9"/>
<line x1="811.4" y1="926" x2="915.4" y2="822" stroke="#dcd6e4" stroke-width="0.9"/>
<line x1="816.0" y1="926" x2="920.0" y2="822" stroke="#dcd6e4" stroke-width="0.9"/>
<line x1="820.6" y1="926" x2="924.6" y2="822" stroke="#dcd6e4" stroke-width="0.9"/>
<line x1="825.2" y1="926" x2="929.2" y2="822" stroke="#dcd6e4" stroke-width="0.9"/>
<line x1="829.8" y1="926" x2="933.8" y2="822" stroke="#dcd6e4" stroke-width="0.9"/>
<line x1="834.4" y1="926" x2="938.4" y2="822" stroke="#dcd6e4" stroke-width="0.9"/>
<line x1="839.0" y1="926" x2="943.0" y2="822" stroke="#dcd6e4" stroke-width="0.9"/>
<line x1="843.6" y1="926" x2="947.6" y2="822" stroke="#dcd6e4" stroke-width="0.9"/>
<line x1="848.2" y1="926" x2="952.2" y2="822" stroke="#dcd6e4" stroke-width="0.9"/>
<line x1="852.8" y1="926" x2="956.8" y2="822" stroke="#dcd6e4" stroke-width="0.9"/>
<line x1="857.4" y1="926" x2="961.4" y2="822" stroke="#dcd6e4" stroke-width="0.9"/>
<line x1="862.0" y1="926" x2="966.0" y2="822" stroke="#dcd6e4" stroke-width="0.9"/>
<line x1="866.6" y1="926" x2="970.6" y2="822" stroke="#dcd6e4" stroke-width="0.9"/>
<line x1="871.2" y1="926" x2="975.2" y2="822" stroke="#dcd6e4" stroke-width="0.9"/>
<line x1="875.8" y1="926" x2="979.8" y2="822" stroke="#dcd6e4" stroke-width="0.9"/>
<line x1="880.4" y1="926" x2="984.4" y2="822" stroke="#dcd6e4" stroke-width="0.9"/>
<line x1="885.0" y1="926" x2="989.0" y2="822" stroke="#dcd6e4" stroke-width="0.9"/>
<line x1="889.6" y1="926" x2="993.6" y2="822" stroke="#dcd6e4" stroke-width="0.9"/>
<line x1="894.2" y1="926" x2="998.2" y2="822" stroke="#dcd6e4" stroke-width="0.9"/>
<line x1="898.8" y1="926" x2="1002.8" y2="822" stroke="#dcd6e4" stroke-width="0.9"/>
<line x1="903.4" y1="926" x2="1007.4" y2="822" stroke="#dcd6e4" stroke-width="0.9"/>
<line x1="908.0" y1="926" x2="1012.0" y2="822" stroke="#dcd6e4" stroke-width="0.9"/>
<line x1="912.6" y1="926" x2="1016.6" y2="822" stroke="#dcd6e4" stroke-width="0.9"/>
<line x1="917.2" y1="926" x2="1021.2" y2="822" stroke="#dcd6e4" stroke-width="0.9"/>
<line x1="921.8" y1="926" x2="1025.8" y2="822" stroke="#dcd6e4" stroke-width="0.9"/>
<line x1="926.4" y1="926" x2="1030.4" y2="822" stroke="#dcd6e4" stroke-width="0.9"/>
<line x1="931.0" y1="926" x2="1035.0" y2="822" stroke="#dcd6e4" stroke-width="0.9"/>
<line x1="935.6" y1="926" x2="1039.6" y2="822" stroke="#dcd6e4" stroke-width="0.9"/>
<line x1="940.2" y1="926" x2="1044.2" y2="822" stroke="#dcd6e4" stroke-width="0.9"/>
<line x1="944.8" y1="926" x2="1048.8" y2="822" stroke="#dcd6e4" stroke-width="0.9"/>
<line x1="949.4" y1="926" x2="1053.4" y2="822" stroke="#dcd6e4" stroke-width="0.9"/>
<line x1="954.0" y1="926" x2="1058.0" y2="822" stroke="#dcd6e4" stroke-width="0.9"/>
<line x1="958.6" y1="926" x2="1062.6" y2="822" stroke="#dcd6e4" stroke-width="0.9"/>
<line x1="963.2" y1="926" x2="1067.2" y2="822" stroke="#dcd6e4" stroke-width="0.9"/>
<line x1="967.8" y1="926" x2="1071.8" y2="822" stroke="#dcd6e4" stroke-width="0.9"/>
<line x1="972.4" y1="926" x2="1076.4" y2="822" stroke="#dcd6e4" stroke-width="0.9"/>
<line x1="977.0" y1="926" x2="1081.0" y2="822" stroke="#dcd6e4" stroke-width="0.9"/>
<line x1="981.6" y1="926" x2="1085.6" y2="822" stroke="#dcd6e4" stroke-width="0.9"/>
<line x1="986.2" y1="926" x2="1090.2" y2="822" stroke="#dcd6e4" stroke-width="0.9"/>
<line x1="990.8" y1="926" x2="1094.8" y2="822" stroke="#dcd6e4" stroke-width="0.9"/>
<line x1="995.4" y1="926" x2="1099.4" y2="822" stroke="#dcd6e4" stroke-width="0.9"/>
</g>
<rect x="816" y="822.7" width="55.7" height="103.3" fill="none" stroke="#dcd6e4" stroke-width="1.2"/>
<rect x="826" y="828" width="9" height="20" fill="#25293a"/>
<rect x="826" y="878" width="9" height="27" fill="#25293a"/>
<line class="w" x1="837" y1="822.7" x2="837" y2="926"/>
<text class="t" x="832" y="837" text-anchor="middle" font-size="9.5" transform="rotate(-90 832 837)" dominant-baseline="central">2'-6"</text>
<text class="t" x="831" y="892" text-anchor="middle" font-size="9.5" transform="rotate(-90 831 892)" dominant-baseline="central">4'-6"</text>
<path class="w" d="M861,822 Q861,806 882,805"/>
<text class="t" x="900.5" y="808" text-anchor="middle" font-size="6.5" textLength="30" lengthAdjust="spacingAndGlyphs">BUILD UP</text>
<text class="t" x="900.5" y="815.6" text-anchor="middle" font-size="6.5" textLength="49" lengthAdjust="spacingAndGlyphs">FLOOR SYSTEM</text>
<circle cx="1147" cy="487.4" r="7.8" fill="none" stroke="#d02a30" stroke-width="1.2"/>
<text class="t" x="694.5" y="448.5" text-anchor="middle" font-size="6.8" textLength="67" lengthAdjust="spacingAndGlyphs">5/0 HIGH WALL (TYP)</text>
<text class="t" x="695" y="520" text-anchor="middle" font-size="6.8" textLength="62" lengthAdjust="spacingAndGlyphs">5/0 CLG HGT (TYP)</text>
<text class="t" x="1002" y="527.5" text-anchor="middle" font-size="6.8" textLength="42" lengthAdjust="spacingAndGlyphs">8/0 CLG HGT</text>
<text class="t" x="1091.5" y="852.6" text-anchor="middle" font-size="6.8" textLength="61" lengthAdjust="spacingAndGlyphs">9/0 CLG HGT (TYP)</text>
<text class="t" x="1091.5" y="924" text-anchor="middle" font-size="6.8" textLength="67" lengthAdjust="spacingAndGlyphs">5/0 HIGH WALL (TYP)</text>
<text class="t" x="505" y="577" text-anchor="middle" font-size="6.8" transform="rotate(-90 505 577)" textLength="42" lengthAdjust="spacingAndGlyphs" dominant-baseline="central">8/0 CLG HGT</text>
<text class="t" x="371" y="582" text-anchor="middle" font-size="6" transform="rotate(-90 371 582)" textLength="36" lengthAdjust="spacingAndGlyphs" dominant-baseline="central">(2) 2/8 X 5/2</text>
<text class="t" x="378" y="582" text-anchor="middle" font-size="6" transform="rotate(-90 378 582)" textLength="46" lengthAdjust="spacingAndGlyphs" dominant-baseline="central">SET @ 6'-8" A.S.F.</text>
<text class="t" x="393" y="585" text-anchor="start" font-size="6.5" textLength="12" lengthAdjust="spacingAndGlyphs">S.P.</text>
<text class="t" x="1025" y="331" text-anchor="middle" font-size="6.5" textLength="39" lengthAdjust="spacingAndGlyphs">(4) 2/8 X 5/2</text>
<text class="t" x="1025" y="339" text-anchor="middle" font-size="6.5" textLength="53" lengthAdjust="spacingAndGlyphs">SET @ 7'-0" A.S.F.</text>
<text class="t" x="982" y="355" text-anchor="middle" font-size="6.5" textLength="12" lengthAdjust="spacingAndGlyphs">S.P.</text>
<text class="t" x="1028" y="355" text-anchor="middle" font-size="6.5" textLength="12" lengthAdjust="spacingAndGlyphs">S.P.</text>
<text class="t" x="1073.6" y="355" text-anchor="middle" font-size="6.5" textLength="12" lengthAdjust="spacingAndGlyphs">S.P.</text>
<text class="t" x="962" y="992.5" text-anchor="middle" font-size="6.5" textLength="12" lengthAdjust="spacingAndGlyphs">S.P.</text>
<text class="t" x="959" y="1008" text-anchor="middle" font-size="6.5" textLength="38" lengthAdjust="spacingAndGlyphs">(2) 2/8 X 5/2</text>
<text class="t" x="524.5" y="1073.5" text-anchor="start" font-size="6.5" textLength="12" lengthAdjust="spacingAndGlyphs">S.P.</text>
<text class="t" x="524.5" y="1119.5" text-anchor="start" font-size="6.5" textLength="12" lengthAdjust="spacingAndGlyphs">S.P.</text>
<text class="t" x="499" y="1085" text-anchor="middle" font-size="6" transform="rotate(-90 499 1085)" textLength="36" lengthAdjust="spacingAndGlyphs" dominant-baseline="central">(3) 2/8 X 4/6</text>
<text class="t" x="506" y="1085" text-anchor="middle" font-size="6" transform="rotate(-90 506 1085)" textLength="46" lengthAdjust="spacingAndGlyphs" dominant-baseline="central">SET @ 8'-0" A.S.F.</text>
<text class="t" x="582" y="961" text-anchor="middle" font-size="6.5" transform="rotate(-90 582 961)" textLength="46" lengthAdjust="spacingAndGlyphs" dominant-baseline="central">6/0 HIGH WALL</text>
<text class="t" x="582" y="1253" text-anchor="middle" font-size="6.5" transform="rotate(-90 582 1253)" textLength="46" lengthAdjust="spacingAndGlyphs" dominant-baseline="central">6/0 HIGH WALL</text>
<text class="t" x="805" y="1105" text-anchor="middle" font-size="6.5" transform="rotate(-90 805 1105)" textLength="46" lengthAdjust="spacingAndGlyphs" dominant-baseline="central">6/0 HIGH WALL</text>
<text class="t" x="657" y="963" text-anchor="middle" font-size="6.5" transform="rotate(-90 657 963)" textLength="38" lengthAdjust="spacingAndGlyphs" dominant-baseline="central">11/0 CLG HGT</text>
<text class="t" x="657" y="1254" text-anchor="middle" font-size="6.5" transform="rotate(-90 657 1254)" textLength="40" lengthAdjust="spacingAndGlyphs" dominant-baseline="central">11/0 CLG HGT</text>
<text class="t" x="729" y="1106" text-anchor="middle" font-size="6.5" transform="rotate(-90 729 1106)" textLength="40" lengthAdjust="spacingAndGlyphs" dominant-baseline="central">11/0 CLG HGT</text>
<text class="t" x="617" y="1093" text-anchor="middle" font-size="6.5" transform="rotate(-90 617 1093)" textLength="40" lengthAdjust="spacingAndGlyphs" dominant-baseline="central">9/0 CLG HGT</text>
<text class="t" x="746" y="839.5" text-anchor="middle" font-size="6.5" textLength="29" lengthAdjust="spacingAndGlyphs">STORAGE</text>
<text class="t" x="692.5" y="1317" text-anchor="middle" font-size="6.5" textLength="31" lengthAdjust="spacingAndGlyphs">2/0 X 4/6</text>
<text class="t" x="692" y="1325" text-anchor="middle" font-size="6.5" textLength="54" lengthAdjust="spacingAndGlyphs">SET @ 9'-0" A.S.F.</text>
<text class="t" x="611" y="1322" text-anchor="start" font-size="6.5" textLength="25" lengthAdjust="spacingAndGlyphs">6" WALL</text>
<path class="w" d="M600,1327 Q601,1320 609,1319"/>
<text class="m" x="698" y="588" text-anchor="middle" font-size="15" textLength="66" lengthAdjust="spacingAndGlyphs">STORAGE</text>
<line class="w" style="stroke:#e028e0" x1="665" y1="590.5" x2="731" y2="590.5"/>
<text class="m" x="1118.5" y="749.5" text-anchor="middle" font-size="15" textLength="65" lengthAdjust="spacingAndGlyphs">STORAGE</text>
<line class="w" style="stroke:#e028e0" x1="1086" y1="751.5" x2="1151" y2="751.5"/>
<text class="m" x="698" y="1058" text-anchor="middle" font-size="15" textLength="76" lengthAdjust="spacingAndGlyphs">REC ROOM</text>
<line class="w" style="stroke:#e028e0" x1="660" y1="1059.5" x2="736" y2="1059.5"/>
<text class="t" x="694" y="1071" text-anchor="middle" font-size="11" textLength="72" lengthAdjust="spacingAndGlyphs">15'-4" X 30'-10"</text>
<text class="t" x="697" y="1077.5" text-anchor="middle" font-size="6" textLength="40" lengthAdjust="spacingAndGlyphs">(UNFINISHED)</text>
<text class="t" x="1597.5" y="871" text-anchor="start" font-size="21.5" textLength="206" lengthAdjust="spacingAndGlyphs" style="fill:none;stroke:#e4e0ea;stroke-width:0.75">SECOND FLOOR PLAN</text>
<line class="w" x1="1597" y1="873.5" x2="1803" y2="873.5"/>
<text class="ct" x="1604" y="887" text-anchor="start" font-size="9.5" textLength="25" lengthAdjust="spacingAndGlyphs" font-weight="bold">SCALE</text>
<text class="ct" x="1633" y="887" text-anchor="start" font-size="8" textLength="110" lengthAdjust="spacingAndGlyphs" font-weight="bold">- - - - - - - - - - - - - - - - - - -3/16"=1'-0"</text>
<rect x="1639" y="922.5" width="100" height="42.5" fill="none" stroke="#9a30b0" stroke-width="1.4"/>
<text class="t" x="1689" y="937.5" text-anchor="middle" font-size="8.5" textLength="86" lengthAdjust="spacingAndGlyphs">698 UNHEATED SQ. FT.</text>
<text class="t" x="1694" y="947.5" text-anchor="middle" font-size="8.5" textLength="62" lengthAdjust="spacingAndGlyphs">REC RM &amp; BATH</text>
<text class="t" x="1687" y="957.5" text-anchor="middle" font-size="8.5" textLength="82" lengthAdjust="spacingAndGlyphs">1126 SQ. FT. STORAGE</text>
<text class="t" x="1607" y="1005" text-anchor="start" font-size="10" textLength="32" lengthAdjust="spacingAndGlyphs">NOTES:</text>
<line class="w" x1="1607" y1="1006.5" x2="1639" y2="1006.5"/>
<text class="t" x="1607" y="1023.0" text-anchor="start" font-size="10" textLength="182" lengthAdjust="spacingAndGlyphs">1) 9'-0"  CLG. HGT. (9' - 1 1/2" PLT. HGT.)</text>
<text class="t" x="1619.5" y="1035.2" text-anchor="start" font-size="10" textLength="126" lengthAdjust="spacingAndGlyphs">UNLESS OTHERWISE NOTED.</text>
<text class="t" x="1607" y="1047.4" text-anchor="start" font-size="10" textLength="175" lengthAdjust="spacingAndGlyphs">2) ALL  WALLS FIGURED AT 4" WIDTHS</text>
<text class="t" x="1619.5" y="1059.6" text-anchor="start" font-size="10" textLength="126" lengthAdjust="spacingAndGlyphs">UNLESS OTHERWISE NOTED.</text>
<text class="t" x="1607" y="1071.8" text-anchor="start" font-size="10" textLength="140" lengthAdjust="spacingAndGlyphs">3) SET WINDOWS AT 7'-4" A.S.F.</text>
<text class="t" x="1619.5" y="1084.0" text-anchor="start" font-size="10" textLength="126" lengthAdjust="spacingAndGlyphs">UNLESS OTHERWISE NOTED.</text>
<text class="t" x="1607" y="1096.2" text-anchor="start" font-size="10" textLength="151" lengthAdjust="spacingAndGlyphs">4) DIMENSIONS ARE TO FRAMING</text>
<text class="t" x="1619.5" y="1108.4" text-anchor="start" font-size="10" textLength="126" lengthAdjust="spacingAndGlyphs">UNLESS OTHERWISE NOTED.</text>
<text class="t" x="1607" y="1120.6" text-anchor="start" font-size="10" textLength="177" lengthAdjust="spacingAndGlyphs">5) CONSULT WINDOW MANUFACTURER'S</text>
<text class="t" x="1619.5" y="1132.8" text-anchor="start" font-size="10" textLength="172" lengthAdjust="spacingAndGlyphs">SPECS. FOR EGRESS REQUIREMENTS,</text>
<text class="t" x="1619.5" y="1145.0" text-anchor="start" font-size="10" textLength="179" lengthAdjust="spacingAndGlyphs">PRESSURE RATINGS, &amp; ROUGH OPNG'S.</text>
<text class="t" x="1607" y="1157.2" text-anchor="start" font-size="10" textLength="182" lengthAdjust="spacingAndGlyphs">6) ELECTRICAL LAYOUT BY BUILDER /</text>
<text class="t" x="1619.5" y="1169.4" text-anchor="start" font-size="10" textLength="115" lengthAdjust="spacingAndGlyphs">SD = SMOKE DETECTOR.</text>
<text class="t" x="1503" y="1405" text-anchor="start" font-size="6.5" textLength="18" lengthAdjust="spacingAndGlyphs">NOTE:</text>
<line class="w" x1="1503" y1="1406" x2="1521" y2="1406"/>
<text class="t" x="1503" y="1413.0" text-anchor="start" font-size="6.5" textLength="179" lengthAdjust="spacingAndGlyphs">ALL STRUCTURAL SYSTEMS AND COMPONENTS INCLUDING</text>
<text class="t" x="1503" y="1421.5" text-anchor="start" font-size="6.5" textLength="185" lengthAdjust="spacingAndGlyphs">ROOF SYSTEMS, BEAMS, HEADERS, COLUMNS, CANTILEVERS</text>
<text class="t" x="1503" y="1430.0" text-anchor="start" font-size="6.5" textLength="171" lengthAdjust="spacingAndGlyphs">AND OFFSET LOAD BEARING WALLS TO BE SIZED AND</text>
<text class="t" x="1503" y="1438.5" text-anchor="start" font-size="6.5" textLength="177" lengthAdjust="spacingAndGlyphs">SEALED BY STURCTURAL ENGINEER AND/ OR SUPPLIER.</text>
<rect x="1713" y="1344.5" width="66.7" height="65.5" fill="none" stroke="#c8c0d0" stroke-width="1.2"/>
<line class="w" x1="1746.5" y1="1348" x2="1746.5" y2="1407"/>
<line class="w" x1="1717" y1="1377.3" x2="1776" y2="1377.3"/>
<text class="ct" x="1732" y="1374" text-anchor="middle" font-size="31" textLength="24" lengthAdjust="spacingAndGlyphs" font-weight="bold">A</text>
<rect x="1757.5" y="1351.5" width="5" height="22" fill="none" stroke="#2ad4e2" stroke-width="1.6"/>
<text class="ct" x="1734.5" y="1405" text-anchor="middle" font-size="31" textLength="20" lengthAdjust="spacingAndGlyphs" font-weight="bold">B</text>
<text class="ct" x="1763.5" y="1405" text-anchor="middle" font-size="31" textLength="25" lengthAdjust="spacingAndGlyphs" font-weight="bold">D</text>
<circle cx="1788" cy="1407" r="3.5" fill="none" stroke="#a040c0" stroke-width="1"/>
<text class="ct" x="1788" y="1409.3" text-anchor="middle" font-size="5.5" font-weight="bold">R</text>
<text class="ct" x="1745.5" y="1420.5" text-anchor="middle" font-size="9" textLength="89" lengthAdjust="spacingAndGlyphs" font-weight="bold">AMERICAN INSTITUTE</text>
<text class="ct" x="1746" y="1429" text-anchor="middle" font-size="8" textLength="12" lengthAdjust="spacingAndGlyphs" font-weight="bold">OF</text>
<text class="ct" x="1746.5" y="1438" text-anchor="middle" font-size="9" textLength="77" lengthAdjust="spacingAndGlyphs" font-weight="bold">BUILDING DESIGN</text>
</svg></body></html>
